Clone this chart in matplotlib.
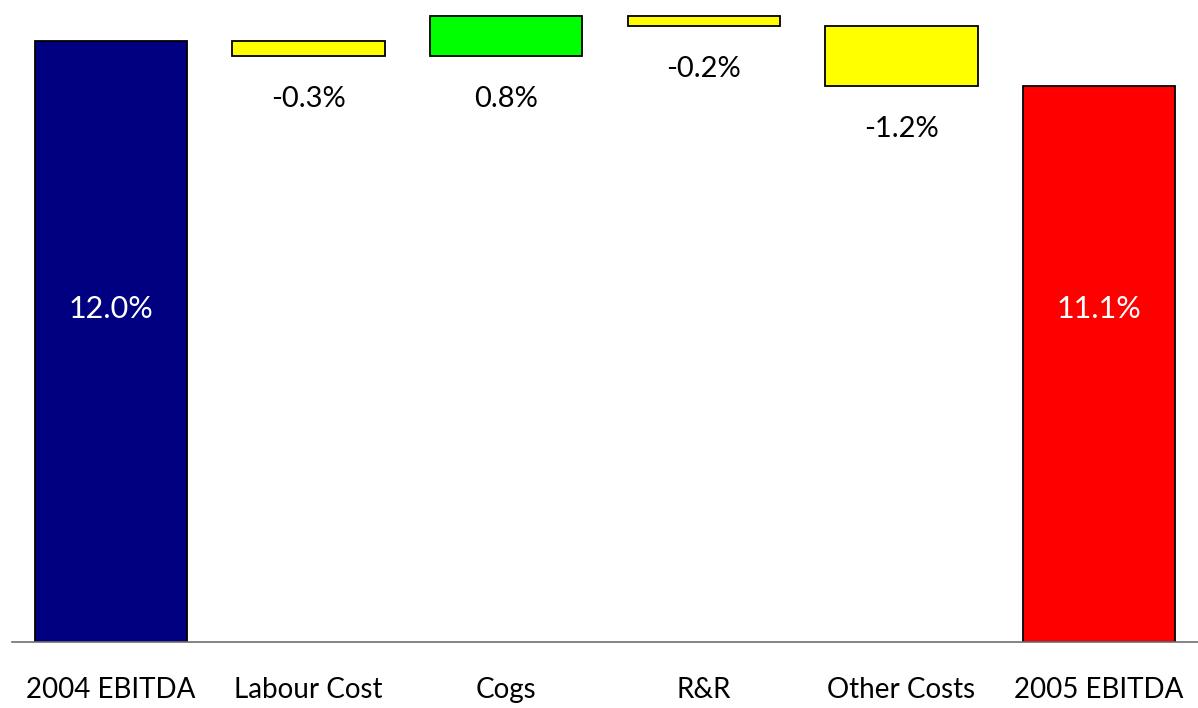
import numpy as np
import matplotlib.pyplot as plt

plt.rcParams['font.family'] = ['Lato', 'DejaVu Sans']

categories = ["2004 EBITDA", "Labour Cost", "Cogs", "R&R", "Other Costs", "2005 EBITDA"]
start_margin = 12.0
changes = [-0.3, 0.8, -0.2, -1.2]
end_margin = 11.1

colors = ["#000080", "#FFFF00", "#00FF00", "#FFFF00", "#FFFF00", "#FF0000"]

# build the waterfall: totals sit on zero, changes float on the running level
bottoms = [0.0]
heights = [start_margin]
level = start_margin
for c in changes:
    bottoms.append(level + min(c, 0))
    heights.append(abs(c))
    level += c
bottoms.append(0.0)
heights.append(end_margin)

fig = plt.figure(figsize=(11.98, 7.08), dpi=100)
ax = fig.add_axes([12 / 1198, 1 - 642 / 708, 1 - 12 / 1198, 642 / 708])

x = np.arange(len(categories))
ax.bar(x, heights, bottom=bottoms, width=0.77, color=colors,
       edgecolor="black", linewidth=1.3)

# totals labelled inside the bar, changes labelled under their bar
for xi, h in [(0, start_margin), (5, end_margin)]:
    ax.text(xi, 6.65, f"{h:.1f}%", color="white", ha="center", va="center",
            fontsize=22)
for i, c in enumerate(changes, start=1):
    ax.annotate(f"{c:.1f}%", (x[i], bottoms[i]), xytext=(0, -31),
                textcoords="offset points", ha="center", va="center",
                fontsize=21)

ax.set_xlim(-0.5, 5.5)
ax.set_ylim(0, 12.82)
ax.set_xticks(x)
ax.set_xticklabels(categories, fontsize=20)
ax.tick_params(axis="x", length=0, pad=25)
ax.set_yticks([])
for side in ["top", "right", "left"]:
    ax.spines[side].set_visible(False)
ax.spines["bottom"].set_color("#707070")
ax.spines["bottom"].set_linewidth(1.2)

fig.savefig("out.png", dpi=100)
